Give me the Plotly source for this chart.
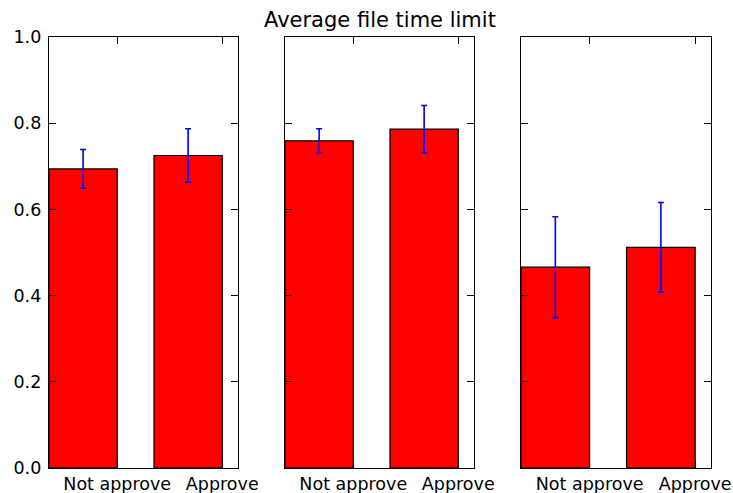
import plotly.graph_objects as go
from plotly.subplots import make_subplots

# Mean share of file time limit, by decision, for three groups
categories = ["Not approve", "Approve"]
means = [
    [0.694, 0.725],
    [0.759, 0.786],
    [0.466, 0.512],
]
errors = [
    [0.045, 0.062],
    [0.028, 0.055],
    [0.117, 0.104],
]
y_ticks = [0.0, 0.2, 0.4, 0.6, 0.8, 1.0]
title_text = "Average file time limit"

bar_width = 0.65
ind = list(range(len(categories)))

fig = make_subplots(rows=1, cols=3, shared_yaxes=False)

domains = [(0.0668, 0.3247), (0.3888, 0.6467), (0.7108, 0.9700)]
font = dict(family="DejaVu Sans", size=17.5, color="black")

for k in range(3):
    fig.add_trace(
        go.Bar(
            x=ind,
            y=means[k],
            width=bar_width,
            offset=0,
            marker=dict(color="#ff0000", line=dict(color="black", width=1.2)),
            error_y=dict(type="data", array=errors[k], visible=True,
                         color="#0000ff", thickness=1.6, width=3),
            showlegend=False,
        ),
        row=1, col=k + 1,
    )
    xa = "xaxis" if k == 0 else f"xaxis{k + 1}"
    ya = "yaxis" if k == 0 else f"yaxis{k + 1}"
    fig.layout[xa].update(
        domain=domains[k], range=[0, 1.8], automargin=False,
        tickvals=[i + bar_width for i in ind], ticktext=categories,
        ticks="inside", ticklen=7, tickwidth=1, tickcolor="black",
        showline=True, linecolor="black", linewidth=1.3, mirror="ticks",
        showgrid=False, zeroline=False, tickfont=font, fixedrange=True,
    )
    fig.layout[ya].update(
        domain=[0.0507, 0.925], range=[0, 1.0], automargin=False,
        tickvals=y_ticks, ticktext=[f"{v:.1f}" for v in y_ticks],
        showticklabels=(k == 0), ticklabelstandoff=3,
        ticks="inside", ticklen=7, tickwidth=1, tickcolor="black",
        showline=True, linecolor="black", linewidth=1.3, mirror="ticks",
        showgrid=False, zeroline=False, tickfont=font, fixedrange=True,
    )

fig.add_annotation(
    text=title_text, xref="paper", yref="paper",
    x=(domains[1][0] + domains[1][1]) / 2, y=0.925, yshift=3,
    xanchor="center", yanchor="bottom", showarrow=False,
    font=dict(family="DejaVu Sans", size=21, color="black"),
)

fig.update_layout(
    width=733, height=493,
    margin=dict(l=0, r=0, t=0, b=0, autoexpand=False),
    paper_bgcolor="white", plot_bgcolor="white",
    font=font,
)

fig.write_html("out.html")
